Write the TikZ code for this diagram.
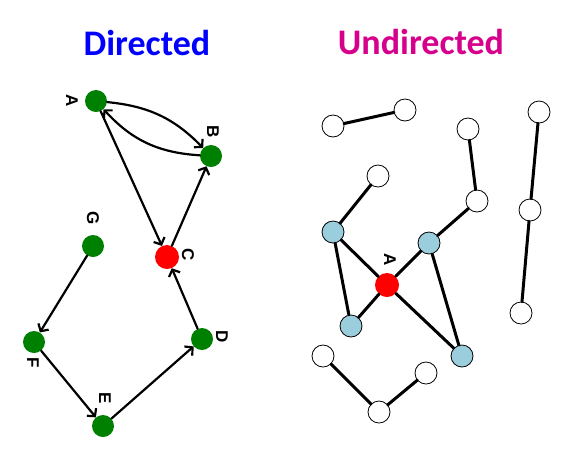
\documentclass[tikz,border=0pt]{standalone}
\usepackage{fontspec}
\setmainfont{Carlito}
\newfontfamily\labfont{Liberation Sans}
\usetikzlibrary{arrows.meta}
\definecolor{dgreen}{RGB}{0,128,0}
\definecolor{lblue}{RGB}{155,206,221}
\definecolor{magen}{RGB}{214,0,140}
\begin{document}
\begin{tikzpicture}[x=1pt, y=1pt, line join=round, line cap=round, >={Straight Barb[length=5.5pt,width=12pt]},
	gn/.style={circle, fill=dgreen, minimum size=22pt, inner sep=0pt},
	rn/.style={circle, fill=red, minimum size=24pt, inner sep=0pt},
	wn/.style={circle, draw, fill=white, line width=.8pt, minimum size=22pt, inner sep=0pt},
	bn/.style={wn, fill=lblue},
	lab/.style={font=\labfont\bfseries\fontsize{17}{17}\selectfont, rotate=-90, inner sep=0pt},
	ttl/.style={font=\bfseries\fontsize{36}{36}\selectfont, anchor=base}]
	\useasboundingbox (0,0) rectangle (580,-467);
	% titles
	\node[ttl, text=blue] (tdir) at (147,-55) {Directed};
	\node[ttl, text=magen] (tund) at (421,-54) {Undirected};
	% directed graph
	\path
	(96,-101)node[gn](A){}
	(211,-156)node[gn](B){}
	(167,-257)node[rn](C){}
	(202,-339)node[gn](D){}
	(103,-426)node[gn](E){}
	(34,-342)node[gn](F){}
	(93,-246)node[gn](G){}
	;
	\path
	(72,-101)node[lab](lA){A}
	(213,-132)node[lab](lB){B}
	(188,-255)node[lab](lC){C}
	(222,-337)node[lab](lD){D}
	(105,-398)node[lab](lE){E}
	(33,-363)node[lab](lF){F}
	(93,-218)node[lab](lG){G}
	;
	\draw[->, line width=2.2pt]
	(A) edge[bend left=20] (B)
	(B) edge[bend left=22] (A)
	(A) edge (C)
	(C) edge (B)
	(G) edge (F)
	(F) edge (E)
	(E) edge (D)
	(D) edge (C)
	;
	% undirected graph
	\path
	(333,-126)node[wn](u1){}
	(405,-110)node[wn](u2){}
	(468,-129)node[wn](u3){}
	(539,-112)node[wn](u4){}
	(378,-176)node[wn](u5){}
	(477,-201)node[wn](u6){}
	(530,-210)node[wn](u7){}
	(521,-313)node[wn](u8){}
	(323,-356)node[wn](u9){}
	(426,-373)node[wn](u10){}
	(379,-412)node[wn](u11){}
	(333,-232)node[bn](b1){}
	(429,-243)node[bn](b2){}
	(351,-326)node[bn](b3){}
	(462,-356)node[bn](b4){}
	(387,-285)node[rn](ra){}
	(390,-260)node[lab](lra){A}
	;
	\draw[line width=3pt]
	(u1)--(u2)
	(u3)--(u6)--(b2)
	(u4)--(u7)--(u8)
	(u5)--(b1)--(ra)--(b2)--(b4)--(ra)--(b3)--(b1)
	(u9)--(u11)--(u10)
	;
\end{tikzpicture}
\end{document}
